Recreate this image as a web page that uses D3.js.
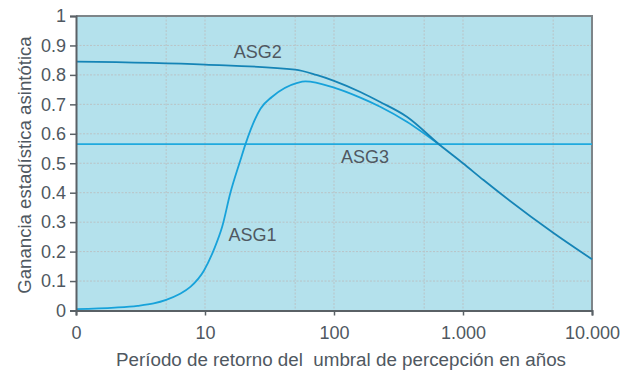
<!DOCTYPE html>
<html>
<head>
<meta charset="utf-8">
<script src="https://cdn.jsdelivr.net/npm/d3@7"></script>
<style>
  body { margin: 0; background: #fff; }
  svg { display: block; font-family: "Liberation Sans", Arial, sans-serif; }
</style>
</head>
<body>
<div id="chart"></div>
<script>
// data
var asg1Periods = [1, 2, 3, 4, 5, 6.3, 7.7, 9.8, 11.7, 13.6, 15.7, 18.8, 20.6, 27, 33, 52, 60, 100, 160, 228, 367, 662];
var asg1Values  = [0.005, 0.01, 0.016, 0.024, 0.036, 0.055, 0.08, 0.135, 0.206, 0.285, 0.398, 0.51, 0.565, 0.686, 0.725, 0.773, 0.778, 0.757, 0.723, 0.692, 0.641, 0.562];

var asg2Periods = [1, 10, 50, 73, 100, 160, 228, 367, 662, 1000, 1442, 5000, 10000];
var asg2Values  = [0.845, 0.835, 0.818, 0.80, 0.78, 0.742, 0.708, 0.658, 0.562, 0.50, 0.443, 0.264, 0.174];

var asg3Periods = [1, 10000];
var asg3Values  = [0.565, 0.565];

var xTickValues = [1, 10, 100, 1000, 10000];
var xTickLabels = ["0", "10", "100", "1.000", "10.000"];
var xGridValues = [5, 10, 50, 100, 500, 1000, 5000];
var yTickValues = [0, 0.1, 0.2, 0.3, 0.4, 0.5, 0.6, 0.7, 0.8, 0.9, 1];
var yTickLabels = ["0", "0.1", "0.2", "0.3", "0.4", "0.5", "0.6", "0.7", "0.8", "0.9", "1"];

var W = 636, H = 372;
var margin = { top: 16, right: 44, bottom: 61.5, left: 76 };
var plotL = margin.left, plotR = W - margin.right;
var plotT = margin.top, plotB = H - margin.bottom;
var textColor = "#4f5861";

var svg = d3.select("#chart").append("svg")
    .attr("width", W)
    .attr("height", H);

var x = d3.scaleLog().domain([1, 10000]).range([plotL, plotR]);
var y = d3.scaleLinear().domain([0, 1]).range([plotB, plotT]);

// plot background
svg.append("rect")
    .attr("x", plotL).attr("y", plotT)
    .attr("width", plotR - plotL).attr("height", plotB - plotT)
    .attr("fill", "#b4e1ec");

// grid
svg.append("g").selectAll("line")
    .data(yTickValues.slice(1, -1))
    .enter().append("line")
    .attr("x1", plotL).attr("x2", plotR)
    .attr("y1", function(d) { return y(d); })
    .attr("y2", function(d) { return y(d); })
    .attr("stroke", "#b9c3c6")
    .attr("stroke-width", 1)
    .attr("stroke-dasharray", "2,1.5");

svg.append("g").selectAll("line")
    .data(xGridValues)
    .enter().append("line")
    .attr("x1", function(d) { return x(d); })
    .attr("x2", function(d) { return x(d); })
    .attr("y1", plotT).attr("y2", plotB)
    .attr("stroke", "#b9c3c6")
    .attr("stroke-width", 1)
    .attr("stroke-dasharray", "2,1.5");

// frame (top + right)
svg.append("path")
    .attr("d", "M" + plotL + "," + plotT + "H" + plotR + "V" + plotB)
    .attr("fill", "none")
    .attr("stroke", "#7d8589")
    .attr("stroke-width", 2);

// curves
var line = d3.line()
    .x(function(d) { return x(d[0]); })
    .y(function(d) { return y(d[1]); })
    .curve(d3.curveMonotoneX);

function pairs(ps, vs) {
  return ps.map(function(p, i) { return [p, vs[i]]; });
}

var series = [
  { data: pairs(asg3Periods, asg3Values), color: "#1fa9de" },
  { data: pairs(asg1Periods, asg1Values), color: "#17a2da" },
  { data: pairs(asg2Periods, asg2Values), color: "#1584b6" }
];

svg.append("g").selectAll("path")
    .data(series)
    .enter().append("path")
    .attr("d", function(d) { return line(d.data); })
    .attr("fill", "none")
    .attr("stroke", function(d) { return d.color; })
    .attr("stroke-width", 1.8);

// series labels
var labels = [
  { text: "ASG2", px: 25.7, v: 0.857 },
  { text: "ASG3", px: 174, v: 0.50 },
  { text: "ASG1", px: 23.4, v: 0.236 }
];
svg.append("g").selectAll("text")
    .data(labels)
    .enter().append("text")
    .attr("x", function(d) { return x(d.px); })
    .attr("y", function(d) { return y(d.v); })
    .attr("text-anchor", "middle")
    .attr("font-size", 18)
    .attr("fill", textColor)
    .text(function(d) { return d.text; });

// axes
var axisX = d3.axisBottom(x)
    .tickValues(xTickValues)
    .tickSize(5)
    .tickPadding(11)
    .tickFormat(function(d, i) { return xTickLabels[i]; });
var gx = svg.append("g")
    .attr("transform", "translate(0," + plotB + ")")
    .call(axisX);

var axisY = d3.axisLeft(y)
    .tickValues(yTickValues)
    .tickSize(6)
    .tickPadding(4)
    .tickFormat(function(d, i) { return yTickLabels[i]; });
var gy = svg.append("g")
    .attr("transform", "translate(" + plotL + ",0)")
    .call(axisY);

[gx, gy].forEach(function(g) {
  g.select(".domain").attr("stroke", "#5a6166").attr("stroke-width", 2);
  g.selectAll(".tick line").attr("stroke", "#5a6166").attr("stroke-width", 1.5);
  g.selectAll(".tick text")
    .attr("font-size", 18)
    .attr("font-family", "Liberation Sans, Arial, sans-serif")
    .attr("fill", textColor);
});

// axis titles
svg.append("text")
    .attr("x", 341)
    .attr("y", 366)
    .attr("text-anchor", "middle")
    .attr("font-size", 18.8)
    .attr("fill", textColor)
    .style("white-space", "pre")
    .text("Período de retorno del  umbral de percepción en años");

svg.append("text")
    .attr("transform", "translate(31,165) rotate(-90)")
    .attr("text-anchor", "middle")
    .attr("font-size", 18.6)
    .attr("fill", textColor)
    .text("Ganancia estadística asintótica");
</script>
</body>
</html>
